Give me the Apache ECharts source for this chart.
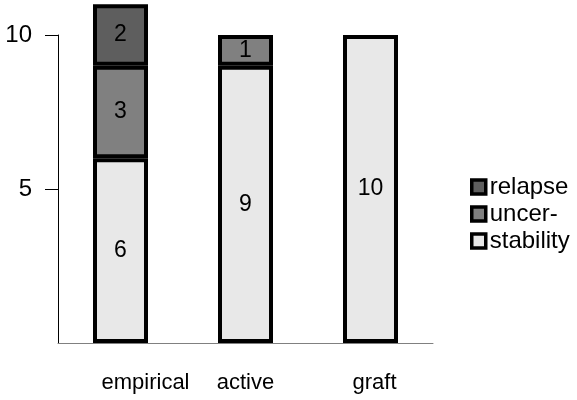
<!DOCTYPE html>
<html>
<head>
<meta charset="utf-8">
<script src="https://cdn.jsdelivr.net/npm/echarts@6/dist/echarts.min.js"></script>
<style>
  html, body { margin: 0; padding: 0; background: #fff; }
  #chart { width: 577px; height: 400px; }
</style>
</head>
<body>
<div id="chart"></div>
<script>
// groups along the x axis
const groups = ['empirical', 'active', 'graft'];

// stacked segments, bottom to top (null = no segment drawn)
const stability = [6, 9, 10];
const uncer = [3, 1, null];
const relapse = [2, null, null];

// y axis ticks that carry a label
const yTicks = [5, 10];

const font = 'Liberation Sans, Arial, sans-serif';

// the category names in the original sit a little right of their bars
const labelShift = { empirical: 50, active: 0, graft: 8 };

const segment = (name, data, color) => ({
  name: name,
  type: 'bar',
  stack: 'total',
  data: data,
  barWidth: 55,
  clip: false,
  itemStyle: {
    color: color,
    borderColor: '#000',
    borderWidth: 4
  },
  label: {
    show: true,
    position: 'inside',
    color: '#000',
    fontFamily: font,
    fontSize: 23
  }
});

const myChart = echarts.init(document.getElementById('chart'));
myChart.setOption({
  animation: false,
  backgroundColor: '#fff',
  grid: { left: 58, right: 144, top: 35, bottom: 57 },
  legend: {
    orient: 'vertical',
    left: 465,
    top: 170,
    itemWidth: 14,
    itemHeight: 14,
    itemGap: 3,
    icon: 'rect',
    data: ['relapse', 'uncer-', 'stability'],
    itemStyle: { borderColor: '#000', borderWidth: 3.5 },
    textStyle: { fontFamily: font, fontSize: 24, color: '#000', padding: [0, 0, 0, -1] }
  },
  xAxis: {
    type: 'category',
    data: groups.map(g => ({ value: g, textStyle: { padding: [0, 0, 0, labelShift[g]] } })),
    axisLine: { lineStyle: { color: '#808080', width: 1 } },
    axisTick: { show: false },
    axisLabel: { color: '#000', fontFamily: font, fontSize: 22, margin: 29 }
  },
  yAxis: {
    type: 'value',
    min: 0,
    max: 10,
    interval: 5,
    axisLine: { show: true, lineStyle: { color: '#000', width: 1 } },
    axisTick: { show: true, length: 13, customValues: yTicks, lineStyle: { color: '#000' } },
    axisLabel: { customValues: yTicks, color: '#000', fontFamily: font, fontSize: 24, margin: 26 },
    splitLine: { show: false }
  },
  series: [
    segment('stability', stability, '#e8e8e8'),
    segment('uncer-', uncer, '#808080'),
    segment('relapse', relapse, '#5e5e5e')
  ]
});
window.addEventListener('resize', () => myChart.resize());
</script>
</body>
</html>
